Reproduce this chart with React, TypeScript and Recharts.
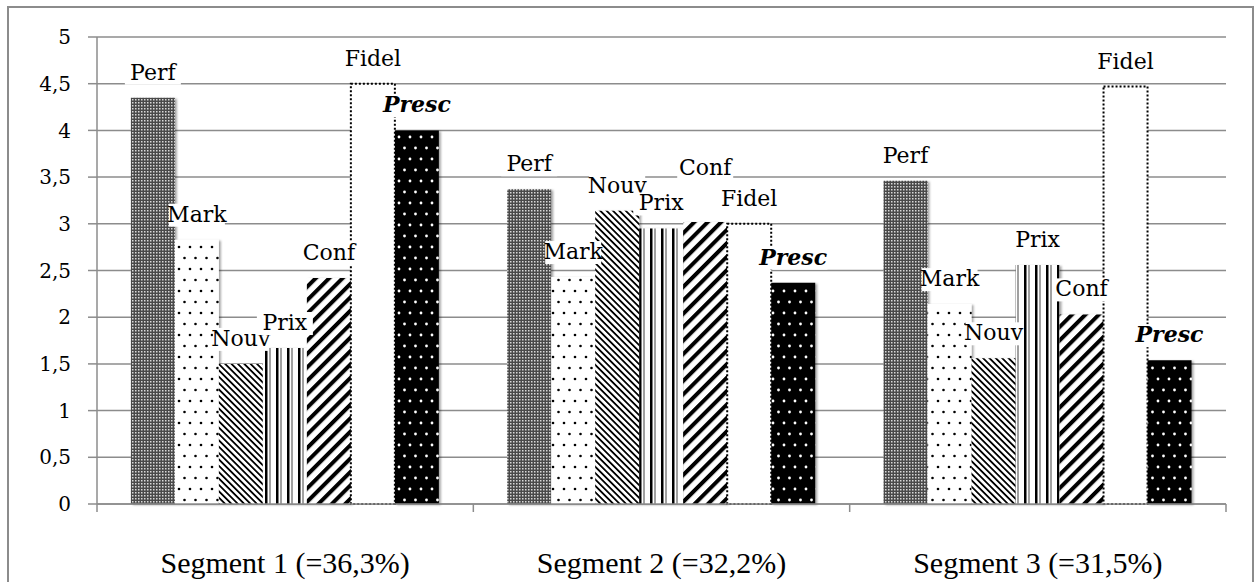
import React from 'react';
import { BarChart, Bar, XAxis, YAxis, CartesianGrid, LabelList } from 'recharts';

const categories = ['Segment 1 (=36,3%)', 'Segment 2 (=32,2%)', 'Segment 3 (=31,5%)'];
const perf = [4.35, 3.37, 3.46];
const mark = [2.83, 2.43, 2.14];
const nouv = [1.5, 3.14, 1.56];
const prix = [1.67, 2.95, 2.56];
const conf = [2.42, 3.02, 2.03];
const fidel = [4.5, 3.0, 4.47];
const presc = [4.0, 2.37, 1.54];
const yTicks = [0, 0.5, 1, 1.5, 2, 2.5, 3, 3.5, 4, 4.5, 5];

const data = categories.map((name, i) => ({
  name,
  Perf: perf[i],
  Mark: mark[i],
  Nouv: nouv[i],
  Prix: prix[i],
  Conf: conf[i],
  Fidel: fidel[i],
  Presc: presc[i],
}));

const W = 1255;
const H = 582;
const MARGIN = { top: 37, right: 29, left: 37, bottom: 18 };
const Y_AXIS_W = 60;
const BAND = (W - MARGIN.left - MARGIN.right - Y_AXIS_W) / categories.length;

const GRID = '#8c8c8c';
const LABEL_FONT = '"DejaVu Serif", serif';

// labels Excel pushed up by hand to avoid overlap
const labelNudge: Record<string, number> = { 'Conf-1': 29 };

const makeLabel = (name: string, strong = false) => (props: any) => {
  const { x, y, width, index } = props;
  const cx = x + width / 2;
  const base = y - 18 - (labelNudge[`${name}-${index}`] || 0);
  const w = name.length * 12.5 + 6;
  return (
    <g>
      <rect x={cx - w / 2} y={base - 18} width={w} height={23} fill="#fff" />
      <text
        x={cx}
        y={base}
        textAnchor="middle"
        fontFamily={LABEL_FONT}
        fontSize={22}
        fontWeight={strong ? 'bold' : 'normal'}
        fontStyle={strong ? 'italic' : 'normal'}
        fill="#000"
      >
        {name}
      </text>
    </g>
  );
};

const CategoryTick = (props: any) => {
  const { x, y, payload, index } = props;
  const left = x - BAND / 2;
  return (
    <g>
      <line x1={left} y1={y - 8} x2={left} y2={y} stroke={GRID} strokeWidth={1.5} />
      {index === categories.length - 1 && (
        <line x1={x + BAND / 2} y1={y - 8} x2={x + BAND / 2} y2={y} stroke={GRID} strokeWidth={1.5} />
      )}
      <text x={x} y={y + 61} textAnchor="middle" fontFamily='"Liberation Serif", serif' fontSize={30} fill="#000">
        {payload.value}
      </text>
    </g>
  );
};

const Patterns = () => (
  <svg width={0} height={0} style={{ position: 'absolute' }}>
    <defs>
      <filter id="barShadow" x="-10%" y="-5%" width="130%" height="115%">
        <feDropShadow dx="2" dy="1" stdDeviation="1.3" floodColor="#000" floodOpacity="0.35" />
      </filter>
      <pattern id="pPerf" width="3" height="3" patternUnits="userSpaceOnUse">
        <rect width="3" height="3" fill="#4a4a4a" />
        <rect width="1.5" height="1.5" fill="#d8d8d8" />
      </pattern>
      <pattern id="pMark" width="11" height="22" patternUnits="userSpaceOnUse">
        <rect width="11" height="22" fill="#fff" />
        <circle cx="3" cy="5" r="1.3" fill="#000" />
        <circle cx="8.5" cy="16" r="1.3" fill="#000" />
      </pattern>
      <pattern id="pNouv" width="4.5" height="4.5" patternUnits="userSpaceOnUse" patternTransform="rotate(-45)">
        <rect width="4.5" height="4.5" fill="#fff" />
        <rect width="1.8" height="4.5" fill="#000" />
      </pattern>
      <pattern id="pPrix" width="11" height="11" patternUnits="userSpaceOnUse">
        <rect width="11" height="11" fill="#fff" />
        <rect x="1" width="2.5" height="11" fill="#000" />
        <rect x="5.5" width="1" height="11" fill="#444" />
      </pattern>
      <pattern id="pConf" width="9.5" height="9.5" patternUnits="userSpaceOnUse" patternTransform="rotate(45)">
        <rect width="9.5" height="9.5" fill="#fff" />
        <rect width="4" height="9.5" fill="#000" />
      </pattern>
      <pattern id="pPresc" width="11" height="22" patternUnits="userSpaceOnUse">
        <rect width="11" height="22" fill="#000" />
        <circle cx="3" cy="5" r="1.4" fill="#fff" />
        <circle cx="8.5" cy="16" r="1.4" fill="#fff" />
      </pattern>
    </defs>
  </svg>
);

const App: React.FC = () => {
  return (
    <div style={{ position: 'absolute', left: 0, top: 0, width: W, height: H, overflow: 'hidden', background: '#fff' }}>
      <Patterns />
      <div
        style={{
          position: 'absolute',
          left: 7,
          top: 6,
          width: 1247,
          height: 700,
          border: `2px solid ${GRID}`,
          boxSizing: 'border-box',
        }}
      />
      <div style={{ position: 'absolute', left: 0, top: 0 }}>
        <BarChart width={W} height={H} data={data} margin={MARGIN} barCategoryGap="9%" barGap={0}>
          <CartesianGrid vertical={false} stroke={GRID} strokeWidth={1.5} />
          <XAxis
            dataKey="name"
            height={60}
            axisLine={{ stroke: GRID, strokeWidth: 1.5 }}
            tickLine={false}
            tick={<CategoryTick />}
            interval={0}
          />
          <YAxis
            width={Y_AXIS_W}
            domain={[0, 5]}
            ticks={yTicks}
            axisLine={{ stroke: GRID, strokeWidth: 1.5 }}
            tickLine={{ stroke: GRID, strokeWidth: 1.5 }}
            tickSize={9}
            tickMargin={17}
            tickFormatter={(v: number) => String(v).replace('.', ',')}
            tick={{ fill: '#000', fontSize: 20, fontFamily: LABEL_FONT }}
          />
          <Bar dataKey="Perf" fill="url(#pPerf)" filter="url(#barShadow)" isAnimationActive={false}>
            <LabelList dataKey="Perf" content={makeLabel('Perf')} />
          </Bar>
          <Bar dataKey="Mark" fill="url(#pMark)" filter="url(#barShadow)" isAnimationActive={false}>
            <LabelList dataKey="Mark" content={makeLabel('Mark')} />
          </Bar>
          <Bar dataKey="Nouv" fill="url(#pNouv)" filter="url(#barShadow)" isAnimationActive={false}>
            <LabelList dataKey="Nouv" content={makeLabel('Nouv')} />
          </Bar>
          <Bar dataKey="Prix" fill="url(#pPrix)" filter="url(#barShadow)" isAnimationActive={false}>
            <LabelList dataKey="Prix" content={makeLabel('Prix')} />
          </Bar>
          <Bar dataKey="Conf" fill="url(#pConf)" filter="url(#barShadow)" isAnimationActive={false}>
            <LabelList dataKey="Conf" content={makeLabel('Conf')} />
          </Bar>
          <Bar
            dataKey="Fidel"
            fill="#fff"
            stroke="#000"
            strokeWidth={2}
            strokeDasharray="2 2"
            isAnimationActive={false}
          >
            <LabelList dataKey="Fidel" content={makeLabel('Fidel')} />
          </Bar>
          <Bar dataKey="Presc" fill="url(#pPresc)" filter="url(#barShadow)" isAnimationActive={false}>
            <LabelList dataKey="Presc" content={makeLabel('Presc', true)} />
          </Bar>
        </BarChart>
      </div>
    </div>
  );
};

export default App;
